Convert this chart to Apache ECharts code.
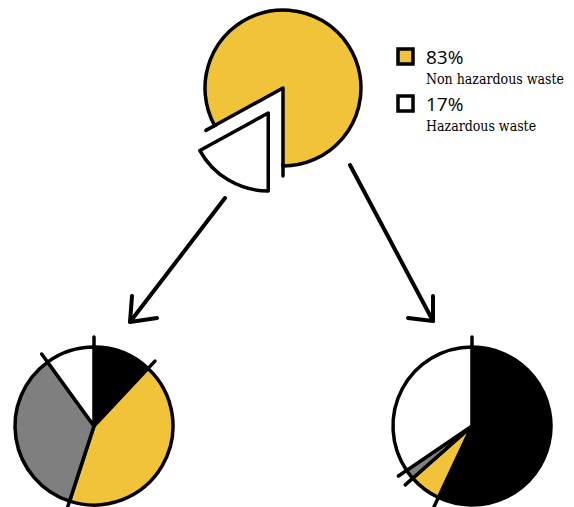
<!DOCTYPE html>
<html>
<head>
<meta charset="utf-8">
<script src="https://cdn.jsdelivr.net/npm/echarts@6/dist/echarts.min.js"></script>
<style>html,body{margin:0;padding:0;background:#fff;}#c{width:574px;height:507px;}</style>
</head>
<body>
<div id="c"></div>
<script>
// ---- data ----
var topNames = ['Hazardous waste', 'Non hazardous waste'];
var topValues = [17, 83];
var topLabels = ['17%', '83%'];

var leftNames = ['Black', 'Yellow', 'Gray', 'White'];
var leftValues = [12, 43, 35, 10];

var rightNames = ['Black', 'Yellow', 'Gray', 'White'];
var rightValues = [57, 6.5, 2, 34.5];

// ---- styles ----
var YELLOW = '#F1C338', GRAY = '#7F7F7F', BLACK = '#000000', WHITE = '#FFFFFF';
var colorMap = { 'Black': BLACK, 'Yellow': YELLOW, 'Gray': GRAY, 'White': WHITE,
  'Hazardous waste': WHITE, 'Non hazardous waste': YELLOW };

function pieData(names, values, selectedIdx) {
  return names.map(function (n, i) {
    return { name: n, value: values[i], selected: i === selectedIdx,
      itemStyle: { color: colorMap[n] } };
  });
}
function boundaries(values) {
  var out = [], s = 0;
  for (var i = 0; i < values.length; i++) { out.push([0, s]); s += values[i]; }
  return out;
}
function sum(v) { return v.reduce(function (a, b) { return a + b; }, 0); }

var pies = [
  { center: [283, 88], r: 78, start: 270, names: topNames, values: topValues, sel: 0 },
  { center: [94, 426], r: 79, start: 90, names: leftNames, values: leftValues, sel: -1 },
  { center: [472, 426], r: 79, start: 90, names: rightNames, values: rightValues, sel: -1 }
];

var polar = [], angleAxis = [], radiusAxis = [], series = [];
pies.forEach(function (p, k) {
  series.push({
    type: 'pie', center: p.center, radius: [0, p.r], startAngle: p.start, clockwise: true,
    selectedMode: 'single', selectedOffset: 29, silent: true,
    label: { show: false }, labelLine: { show: false },
    itemStyle: { borderColor: BLACK, borderWidth: 3.5 },
    emphasis: { disabled: true },
    data: pieData(p.names, p.values, p.sel)
  });
  polar.push({ center: p.center, radius: 100 });
  angleAxis.push({ polarIndex: k, type: 'value', min: 0, max: sum(p.values), startAngle: p.start,
    clockwise: true, show: false });
  radiusAxis.push({ polarIndex: k, type: 'value', min: 0, max: 100, show: false });
  series.push({
    type: 'custom', coordinateSystem: 'polar', polarIndex: k, silent: true,
    data: boundaries(p.values),
    renderItem: (function (r) {
      return function (params, api) {
        var a = api.value(1);
        var p1 = api.coord([r - 2, a]), p2 = api.coord([r + 10, a]);
        return { type: 'line', shape: { x1: p1[0], y1: p1[1], x2: p2[0], y2: p2[1] },
          style: { stroke: BLACK, lineWidth: 3.5, lineCap: 'round' } };
      };
    })(p.r)
  });
});

function arrow(pts) {
  return { type: 'polyline', shape: { points: pts }, silent: true,
    style: { stroke: BLACK, lineWidth: 4, fill: null, lineCap: 'round', lineJoin: 'round' } };
}

var legendOrder = [1, 0];
var graphic = [
  arrow([[225, 198], [130, 322]]),
  arrow([[132, 296], [130, 322], [157, 318]]),
  arrow([[350, 165], [433, 321]]),
  arrow([[433, 296], [433, 321], [408, 318]])
];
legendOrder.forEach(function (idx, j) {
  var y0 = 49 + j * 47;
  graphic.push({ type: 'rect', shape: { x: 398, y: y0, width: 15, height: 15 }, silent: true,
    style: { fill: colorMap[topNames[idx]], stroke: BLACK, lineWidth: 3.5 } });
  graphic.push({ type: 'text', x: 426, y: y0 + 8, silent: true,
    style: { text: topLabels[idx], font: '19px "Open Sans"', fill: '#000', verticalAlign: 'middle', align: 'left' } });
  graphic.push({ type: 'text', x: 426, y: y0 + 30, silent: true,
    style: { text: topNames[idx], font: '14px "DejaVu Serif Condensed", "DejaVu Serif"', fill: '#000', verticalAlign: 'middle', align: 'left' } });
});

var chart = echarts.init(document.getElementById('c'), null, { renderer: 'svg' });
chart.setOption({
  animation: false,
  backgroundColor: '#fff',
  polar: polar, angleAxis: angleAxis, radiusAxis: radiusAxis,
  series: series,
  graphic: graphic
});
</script>
</body>
</html>
